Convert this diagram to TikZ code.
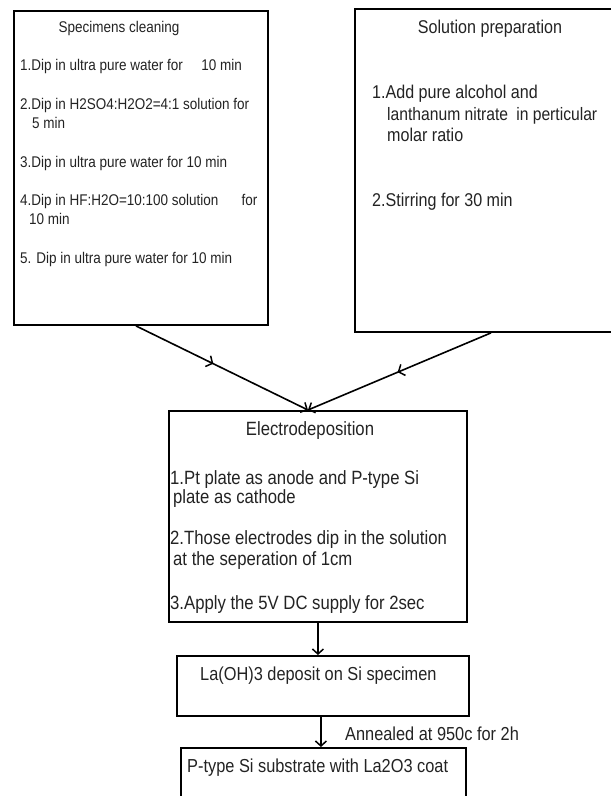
\documentclass[tikz,border=0pt]{standalone}
\usepackage{fontspec}
\usetikzlibrary{arrows.meta,decorations.markings}
\newfontfamily\arialn[FakeStretch=0.87]{Liberation Sans}
\definecolor{ink}{RGB}{35,35,35}
\tikzset{
  box/.style={draw=black, line width=1.9pt, inner sep=0pt, anchor=north west},
  txt/.style={anchor=base west, inner sep=0pt, text=ink},
  ttl/.style={anchor=base, inner sep=0pt, text=ink},
  fa/.style={font=\arialn\fontsize{15.5}{18}\selectfont},
  fb/.style={font=\arialn\fontsize{18.5}{22}\selectfont},
  fc/.style={font=\arialn\fontsize{18.8}{22}\selectfont},
  fd/.style={font=\arialn\fontsize{19.2}{22}\selectfont},
  conn/.style={line width=1.6pt},
  tip/.style={-{Straight Barb[length=5pt,width=11pt,line width=1.5pt]}},
  midtip/.style={postaction={decorate}, decoration={markings, mark=at position #1 with {\arrow{Straight Barb[length=5pt,width=12pt,line width=1.5pt]}}}}
}
\begin{document}
\begin{tikzpicture}[x=1pt,y=-1pt]
\clip (0,0) rectangle (611,796);
\useasboundingbox (0,0) rectangle (611,796);
\fill[white] (0,0) rectangle (611,796);

% boxes
\node[box, minimum width=254pt, minimum height=314pt] (clean) at (13,10) {};
\node[box, minimum width=270pt, minimum height=323pt] (sol) at (354,8) {};
\node[box, minimum width=298pt, minimum height=211pt] (elec) at (168,410) {};
\node[box, minimum width=292pt, minimum height=60pt] (depo) at (176,655) {};
\node[box, minimum width=285pt, minimum height=70pt] (coat) at (180,747) {};

% specimens cleaning
\node[ttl, fa] (t1) at (119,32) {Specimens cleaning};
\node[txt, fa] (a1) at (20,70) {1.Dip in ultra pure water for\hspace{1.2em}10 min};
\node[txt, fa] (a2) at (20,109) {2.Dip in H2SO4:H2O2=4:1 solution for};
\node[txt, fa] (a2b) at (32,128) {5 min};
\node[txt, fa] (a3) at (20,167) {3.Dip in ultra pure water for 10 min};
\node[txt, fa] (a4) at (20,205) {4.Dip in HF:H2O=10:100 solution\hspace{1.5em}for};
\node[txt, fa] (a4b) at (29,224) {10 min};
\node[txt, fa] (a5) at (20,263) {5. Dip in ultra pure water for 10 min};

% solution preparation
\node[ttl, fb] (t2) at (490,33) {Solution preparation};
\node[txt, fb] (b1) at (372,98) {1.Add pure alcohol and};
\node[txt, fb, font=\arialn\fontsize{18}{22}\selectfont] (b1b) at (387,120) {lanthanum nitrate\hspace{0.45em}in perticular};
\node[txt, fb] (b1c) at (387,141) {molar ratio};
\node[txt, fb] (b2) at (372,206) {2.Stirring for 30 min};

% electrodeposition
\node[ttl, fd] (t3) at (310,435) {Electrodeposition};
\node[txt, fd] (c1) at (170,484) {1.Pt plate as anode and P-type Si};
\node[txt, fd] (c1b) at (173,503) {plate as cathode};
\node[txt, fd] (c2) at (170,544) {2.Those electrodes dip in the solution};
\node[txt, fd] (c2b) at (173,565) {at the seperation of 1cm};
\node[txt, fd] (c3) at (170,609) {3.Apply the 5V DC supply for 2sec};

% bottom boxes
\node[txt, fc] (d1) at (200,680) {La(OH)3 deposit on Si specimen};
\node[txt, fc] (ann) at (345,740) {Annealed at 950c for 2h};
\node[txt, fc] (e1) at (187,772) {P-type Si substrate with La2O3 coat};

% connectors
\draw[conn, tip, midtip=0.45] ([xshift=-5pt]clean.south) -- ([xshift=-10pt]elec.north);
\draw[conn, tip, midtip=0.51] ([xshift=1pt]sol.south) -- ([xshift=-10pt]elec.north);
\draw[conn, tip] (elec.south) -- (elec.south |- depo.north);
\draw[conn, tip] ([xshift=-2pt]depo.south) -- ([xshift=-2pt]depo.south |- coat.north);
\end{tikzpicture}
\end{document}
